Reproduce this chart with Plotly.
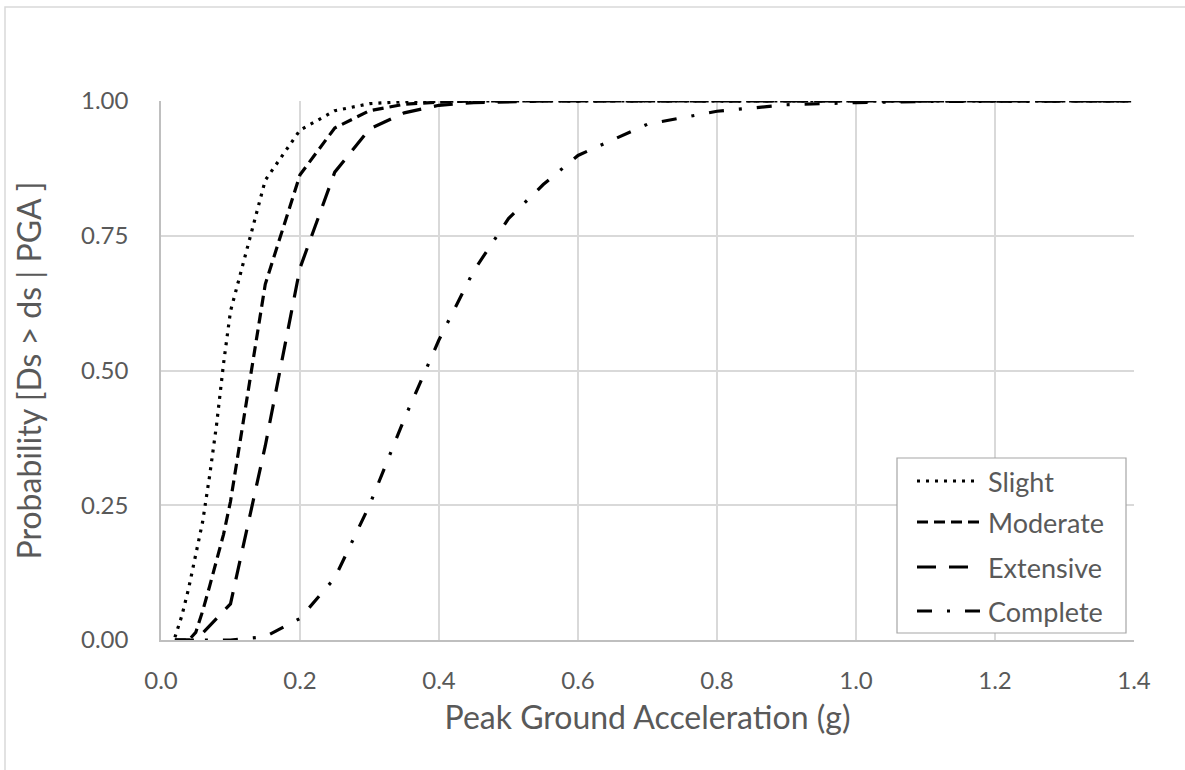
import plotly.graph_objects as go

# Peak ground acceleration (g) at which the fragility curves are tabulated
pga = [0.02, 0.03, 0.04, 0.05, 0.06, 0.07, 0.08, 0.09, 0.10, 0.15, 0.20, 0.25,
       0.30, 0.35, 0.40, 0.45, 0.50, 0.55, 0.60, 0.70, 0.80, 0.90, 1.00, 1.10,
       1.20, 1.30, 1.40]

# Exceedance probabilities P[Ds > ds | PGA] per damage state
slight = [0.005, 0.045, 0.097, 0.16, 0.22, 0.305, 0.40, 0.513, 0.61, 0.853,
          0.946, 0.982, 0.995, 0.999, 1.0, 1.0, 1.0, 1.0, 1.0, 1.0, 1.0, 1.0,
          1.0, 1.0, 1.0, 1.0, 1.0]
moderate = [0.0, 0.0, 0.0, 0.014, 0.054, 0.10, 0.147, 0.196, 0.257, 0.66,
            0.863, 0.95, 0.982, 0.994, 0.998, 1.0, 1.0, 1.0, 1.0, 1.0, 1.0,
            1.0, 1.0, 1.0, 1.0, 1.0, 1.0]
extensive = [0.0, 0.0, 0.0, 0.0, 0.013, 0.027, 0.04, 0.055, 0.067, 0.36,
             0.69, 0.868, 0.948, 0.978, 0.992, 0.997, 0.999, 1.0, 1.0, 1.0,
             1.0, 1.0, 1.0, 1.0, 1.0, 1.0, 1.0]
complete = [0.0, 0.0, 0.0, 0.0, 0.0, 0.0, 0.0, 0.0, 0.0, 0.006, 0.04, 0.115,
            0.25, 0.41, 0.557, 0.685, 0.782, 0.845, 0.899, 0.957, 0.981,
            0.993, 0.997, 0.999, 1.0, 1.0, 1.0]

state_names = ["Slight", "Moderate", "Extensive", "Complete"]
x_ticks = [0.0, 0.2, 0.4, 0.6, 0.8, 1.0, 1.2, 1.4]
y_ticks = [0.0, 0.25, 0.5, 0.75, 1.0]

series = [slight, moderate, extensive, complete]
dashes = ["3px,6px", "11px,6px", "19px,13px", "15px,15px,3px,15px"]

FONT = "Lato"
TEXT = "#595959"
GRID = "#d9d9d9"
TICK_SIZE = 24
TITLE_SIZE = 32
LEGEND_SIZE = 27

W, H = 1185, 770
L, R, T, B = 161, 51, 101, 130
PW, PH = W - L - R, H - T - B


def px(x):
    return (x - L) / PW


def py(y):
    return (H - B - y) / PH


fig = go.Figure()
for name, vals, dash in zip(state_names, series, dashes):
    fig.add_trace(go.Scatter(
        x=pga, y=vals, name=name, mode="lines",
        line=dict(color="black", width=3.2, dash=dash),
        cliponaxis=False, showlegend=False,
    ))

shapes = [
    # chart frame
    dict(type="rect", xref="paper", yref="paper",
         x0=px(5), x1=px(1195), y0=py(780), y1=py(7),
         line=dict(color="#d9d9d9", width=1.5), layer="below"),
    # legend box
    dict(type="rect", xref="paper", yref="paper",
         x0=px(897), x1=px(1126), y0=py(633), y1=py(458),
         line=dict(color="#a6a6a6", width=1.2), fillcolor="white",
         layer="above"),
]
annotations = []
legend_rows = [481, 522, 567, 611]
sample_ends = [975, 985, 968, 985]
for name, dash, yrow, xend in zip(state_names, dashes, legend_rows, sample_ends):
    shapes.append(dict(type="line", xref="paper", yref="paper",
                       x0=px(917), x1=px(xend), y0=py(yrow), y1=py(yrow),
                       line=dict(color="black", width=3.2, dash=dash),
                       layer="above"))
    annotations.append(dict(xref="paper", yref="paper", x=px(986), y=py(yrow),
                            text=name, showarrow=False, xanchor="left",
                            yanchor="middle",
                            font=dict(family=FONT, size=LEGEND_SIZE, color=TEXT)))

fig.update_layout(
    width=W, height=H,
    margin=dict(l=L, r=R, t=T, b=B),
    paper_bgcolor="white", plot_bgcolor="white",
    font=dict(family=FONT, size=TICK_SIZE, color=TEXT),
    shapes=shapes, annotations=annotations,
    showlegend=False,
)
fig.update_xaxes(
    range=[0, 1.4], tickvals=x_ticks,
    ticktext=[f"{v:.1f}" for v in x_ticks],
    showgrid=True, gridcolor=GRID, gridwidth=1.5,
    zeroline=False, showline=True, linecolor="#bfbfbf", linewidth=1.5,
    ticks="", ticklabelstandoff=18,
    tickfont=dict(family=FONT, size=TICK_SIZE, color=TEXT),
    title=dict(text="Peak Ground Acceleration (g)", standoff=14,
               font=dict(family=FONT, size=TITLE_SIZE, color=TEXT)),
)
fig.update_yaxes(
    range=[0, 1.0], tickvals=y_ticks,
    ticktext=[f"{v:.2f}" for v in y_ticks],
    showgrid=True, gridcolor=GRID, gridwidth=1.5,
    zeroline=False, showline=True, linecolor="#bfbfbf", linewidth=1.5,
    ticks="", ticklabelstandoff=26,
    tickfont=dict(family=FONT, size=TICK_SIZE, color=TEXT),
    title=dict(text="Probability [Ds > ds | PGA ]", standoff=30,
               font=dict(family=FONT, size=TITLE_SIZE, color=TEXT)),
)

fig.write_html("out.html")
